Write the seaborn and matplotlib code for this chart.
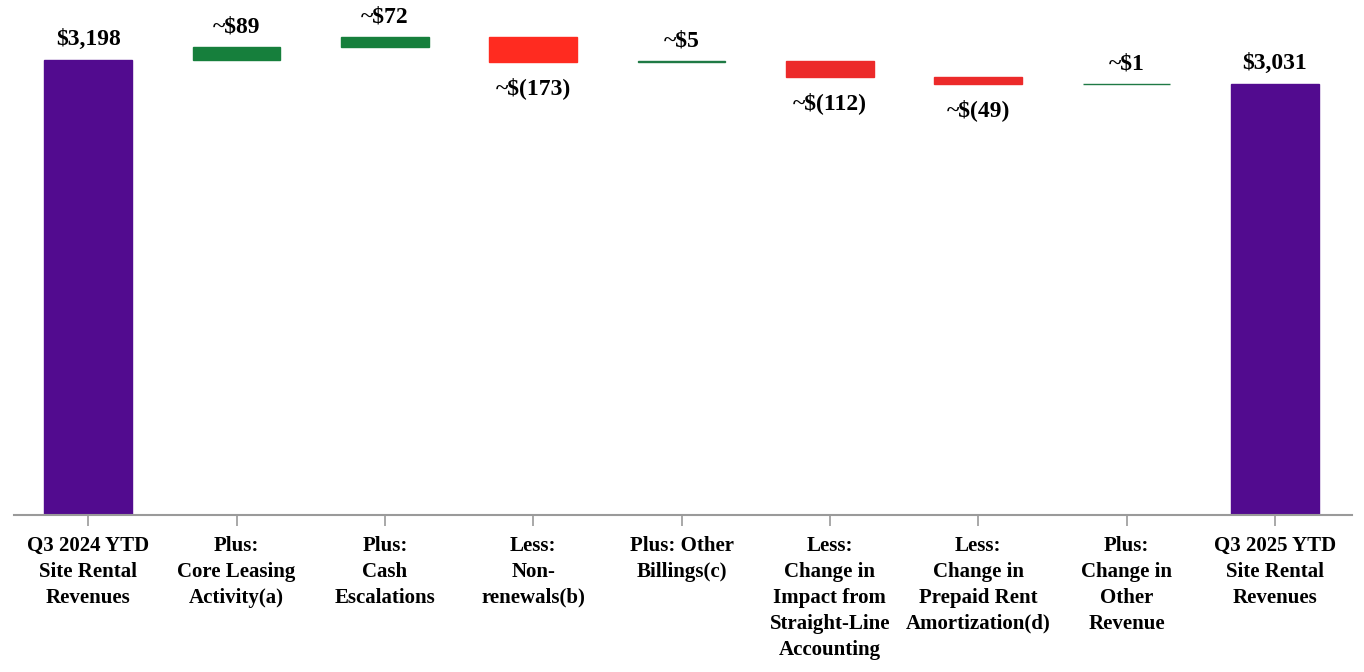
import matplotlib
matplotlib.use("Agg")
import matplotlib.pyplot as plt
import seaborn as sns
import numpy as np

# data
categories = ["Q3 2024 YTD\nSite Rental\nRevenues", "Plus:\nCore Leasing\nActivity(a)",
              "Plus:\nCash\nEscalations", "Less:\nNon-\nrenewals(b)", "Plus: Other\nBillings(c)",
              "Less:\nChange in\nImpact from\nStraight-Line\nAccounting",
              "Less:\nChange in\nPrepaid Rent\nAmortization(d)",
              "Plus:\nChange in\nOther\nRevenue", "Q3 2025 YTD\nSite Rental\nRevenues"]
changes = [3198, 89, 72, -173, 5, -112, -49, 1, 3031]
labels = ["$3,198", "~$89", "~$72", "~$(173)", "~$5", "~$(112)", "~$(49)", "~$1", "$3,031"]
kinds = ["total", "delta", "delta", "delta", "delta", "delta", "delta", "delta", "total"]

colors = ["#520b8f", "#167f3c", "#167f3c", "#ff2b20", "#1f7a45", "#ec2a2a", "#ec2a2a", "#1f7a45", "#520b8f"]

# compute bar bottoms / heights for the waterfall
bottoms, heights = [], []
running = 0
for v, k in zip(changes, kinds):
    if k == "total":
        bottoms.append(0)
        heights.append(v)
        running = v
    else:
        new = running + v
        bottoms.append(min(running, new))
        heights.append(abs(v))
        running = new

sns.set_style("white")
plt.rcParams["font.family"] = ["Liberation Serif", "DejaVu Serif"]
plt.rcParams["font.weight"] = "bold"
plt.rcParams["text.color"] = "black"
plt.rcParams["xtick.color"] = "black"

fig = plt.figure(figsize=(13.64, 6.72), dpi=100)
ax = fig.add_axes([0.0103, 0.2336, 0.9809, 0.7664])

xs = list(range(len(categories)))
sns.barplot(x=xs, y=heights, hue=xs, palette=colors, legend=False, width=0.59,
            saturation=1, ax=ax, linewidth=1.0)
for p, b, c in zip(ax.patches, bottoms, colors):
    p.set_y(b)
    p.set_edgecolor(c)

for i, (v, k, lab) in enumerate(zip(changes, kinds, labels)):
    b, h = bottoms[i], heights[i]
    if k == "total" or v > 0:
        ax.annotate(lab, (i, b + h), xytext=(0, 7), textcoords="offset points",
                    ha="center", va="bottom", fontsize=17, fontweight="bold")
    else:
        ax.annotate(lab, (i, b), xytext=(0, -11), textcoords="offset points",
                    ha="center", va="top", fontsize=17, fontweight="bold")

ax.set_xlim(-0.5, 8.52)
ax.set_ylim(0, 3620)
ax.set_xticks(xs)
ax.set_xticklabels(categories, fontsize=15, fontweight="bold", linespacing=1.4)
ax.set_yticks([])
for s in ["top", "right", "left"]:
    ax.spines[s].set_visible(False)
ax.spines["bottom"].set_color("#9a9a9a")
ax.spines["bottom"].set_linewidth(1.5)
ax.tick_params(axis="x", bottom=True, length=8, width=1.2, color="#9a9a9a",
               labelcolor="black", pad=7)

fig.savefig("out.png", dpi=100)
